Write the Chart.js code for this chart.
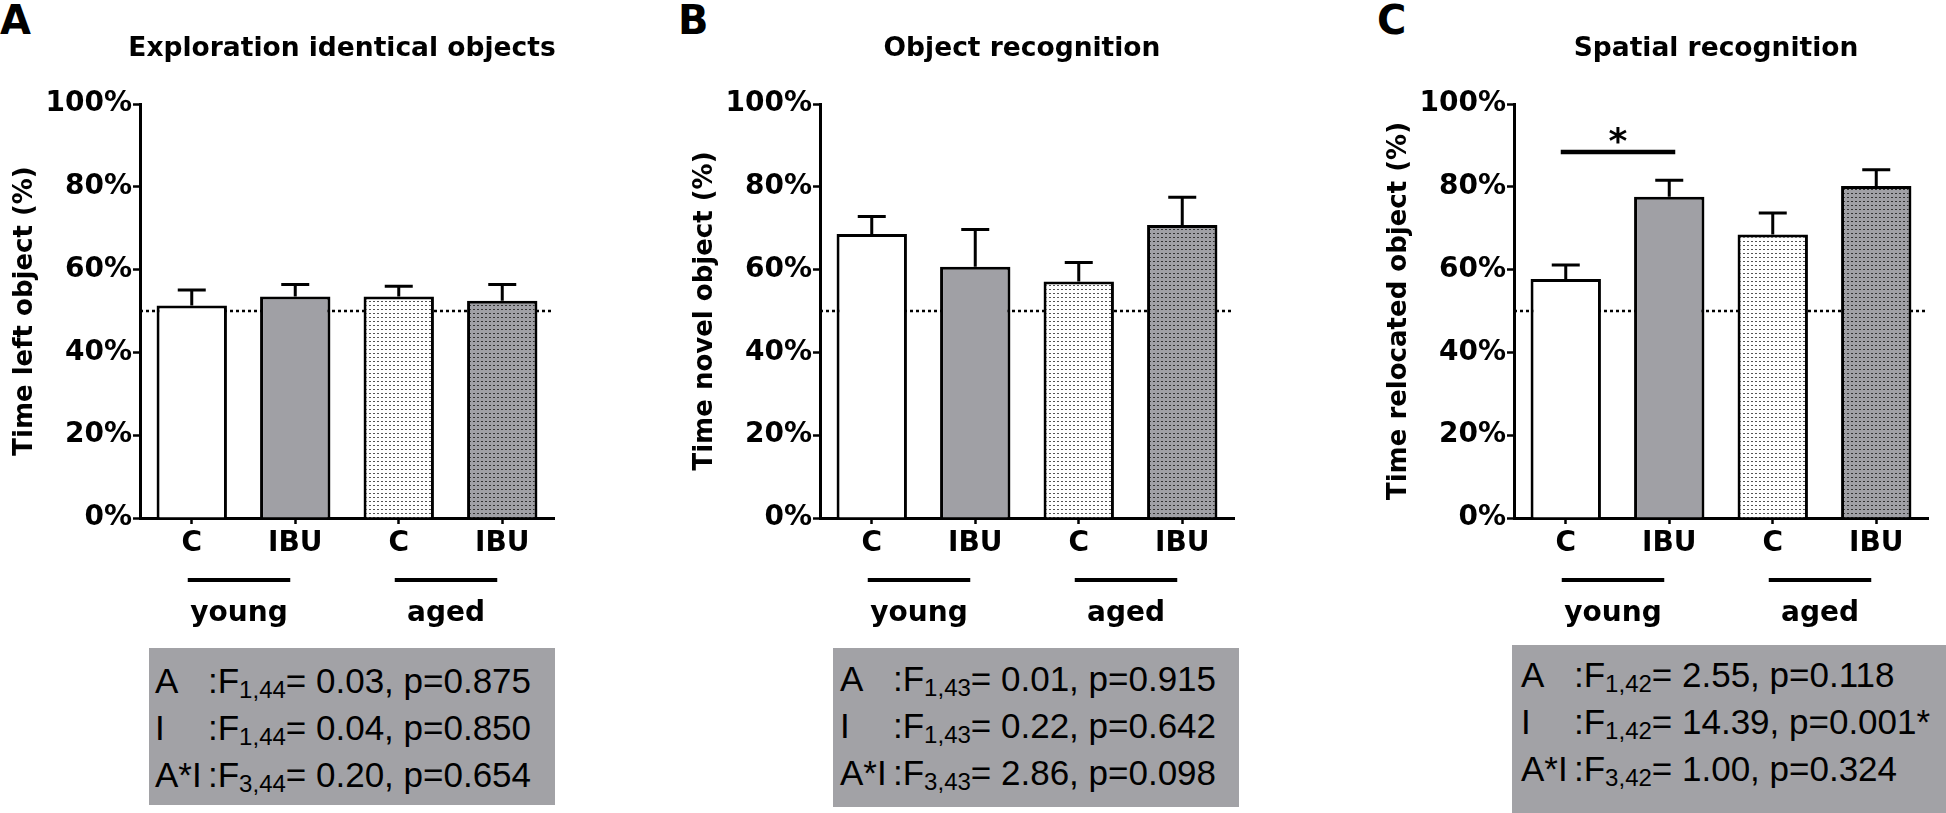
<!DOCTYPE html>
<html>
<head>
<meta charset="utf-8">
<script src="https://cdn.jsdelivr.net/npm/chart.js@4.4.0/dist/chart.umd.min.js"></script>
<style>
  body { margin: 0; background: #fff; width: 1946px; height: 813px; overflow: hidden; position: relative; }
  canvas { position: absolute; top: 0; }
  .letter { position: absolute; top: 0px; font: bold 40px "DejaVu Sans", sans-serif; line-height: 40px; }
  .stats { position: absolute; background: #a2a2a6; color: #000; box-sizing: border-box;
           font-family: "Liberation Sans", Arial, sans-serif; font-size: 35px; line-height: 47px; }
  .stats .line { display: block; white-space: nowrap; }
  .stats .k { display: inline-block; width: 53px; }
  .stats sub { font-size: 24px; vertical-align: -5px; line-height: 0; }
</style>
</head>
<body>
<div class="letter" style="left:0px">A</div>
<div class="letter" style="left:678px">B</div>
<div class="letter" style="left:1377px">C</div>

<canvas id="chartA" width="566" height="640" style="left:0px"></canvas>
<canvas id="chartB" width="566" height="640" style="left:680px"></canvas>
<canvas id="chartC" width="566" height="640" style="left:1374px"></canvas>

<div class="stats" id="statsA" style="left:149px; top:648px; width:406px; height:157px; padding:9px 0 0 6px"></div>
<div class="stats" id="statsB" style="left:833px; top:648px; width:406px; height:159px; padding:7px 0 0 7px"></div>
<div class="stats" id="statsC" style="left:1512px; top:645px; width:434px; height:168px; padding:6px 0 0 9px"></div>

<script>
// data (percent)
const categories = ['C', 'IBU', 'C', 'IBU'];
const groups = ['young', 'aged'];
const yTickValues = [0, 20, 40, 60, 80, 100];
const chanceLevel = 50;

const meansA = [51.3, 53.5, 53.5, 52.5];
const errorsA = [3.8, 2.9, 2.5, 3.9];
const meansB = [68.6, 60.7, 57.1, 70.8];
const errorsB = [4.2, 9.0, 4.6, 6.7];
const meansC = [57.7, 77.6, 68.5, 80.2];
const errorsC = [3.4, 4.0, 5.2, 3.9];

// significance bar in panel C: between bars 0 and 1
const sigPairC = [0, 1];
const sigLevelC = 88.4;

const statsA = [
  ['A', '1,44', '0.03', '0.875'],
  ['I', '1,44', '0.04', '0.850'],
  ['A*I', '3,44', '0.20', '0.654'],
];
const statsB = [
  ['A', '1,43', '0.01', '0.915'],
  ['I', '1,43', '0.22', '0.642'],
  ['A*I', '3,43', '2.86', '0.098'],
];
const statsC = [
  ['A', '1,42', '2.55', '0.118'],
  ['I', '1,42', '14.39', '0.001*'],
  ['A*I', '3,42', '1.00', '0.324'],
];

const GRAY = '#a0a0a5';
const BOLD = '"DejaVu Sans", sans-serif';

function dotPattern(bg, dot) {
  const c = document.createElement('canvas');
  c.width = 4; c.height = 4;
  const g = c.getContext('2d');
  g.fillStyle = bg;
  g.fillRect(0, 0, 4, 4);
  g.fillStyle = dot;
  g.fillRect(1, 1, 2, 1);
  return g.createPattern(c, 'repeat');
}

const fills = ['#ffffff', GRAY, dotPattern('#ffffff', '#555'), dotPattern(GRAY, '#333')];

const decor = {
  id: 'decor',
  beforeDatasetsDraw(chart, args, opts) {
    const { ctx, chartArea } = chart;
    const y = chart.scales.y.getPixelForValue(chanceLevel);
    ctx.save();
    ctx.strokeStyle = '#000';
    ctx.lineWidth = 2.5;
    ctx.setLineDash([3, 3]);
    ctx.beginPath();
    ctx.moveTo(chartArea.left, y);
    ctx.lineTo(chartArea.right, y);
    ctx.stroke();
    ctx.restore();
  },
  afterDatasetsDraw(chart, args, opts) {
    const { ctx } = chart;
    const yScale = chart.scales.y;
    const xScale = chart.scales.x;
    const means = chart.data.datasets[0].data;
    ctx.save();
    ctx.strokeStyle = '#000';
    ctx.lineWidth = 3;
    chart.getDatasetMeta(0).data.forEach((bar, i) => {
      const y0 = yScale.getPixelForValue(means[i]);
      const y1 = yScale.getPixelForValue(means[i] + opts.errors[i]);
      ctx.beginPath();
      ctx.moveTo(bar.x, y0);
      ctx.lineTo(bar.x, y1);
      ctx.moveTo(bar.x - 14, y1);
      ctx.lineTo(bar.x + 14, y1);
      ctx.stroke();
    });
    if (opts.sig) {
      const ys = yScale.getPixelForValue(opts.sig.level);
      const x1 = xScale.getPixelForValue(opts.sig.pair[0]) - 5;
      const x2 = xScale.getPixelForValue(opts.sig.pair[1]) + 6;
      ctx.lineWidth = 4.5;
      ctx.beginPath();
      ctx.moveTo(x1, ys);
      ctx.lineTo(x2, ys);
      ctx.stroke();
      ctx.fillStyle = '#000';
      ctx.font = 'bold 36px ' + BOLD;
      ctx.textAlign = 'center';
      ctx.textBaseline = 'alphabetic';
      ctx.fillText('*', (x1 + x2) / 2, ys + 1);
    }
    ctx.restore();
  },
  afterDraw(chart, args, opts) {
    const { ctx, chartArea } = chart;
    const xScale = chart.scales.x;
    ctx.save();
    ctx.fillStyle = '#000';
    ctx.strokeStyle = '#000';
    ctx.textAlign = 'center';
    ctx.textBaseline = 'alphabetic';
    ctx.font = 'bold 26.5px ' + BOLD;
    ctx.fillText(opts.title, (chartArea.left + chartArea.right) / 2 - 5, 56);
    ctx.font = 'bold 28px ' + BOLD;
    ctx.lineWidth = 4;
    groups.forEach((name, g) => {
      const x1 = xScale.getPixelForValue(2 * g) - 4;
      const x2 = xScale.getPixelForValue(2 * g + 1) - 5;
      ctx.beginPath();
      ctx.moveTo(x1, 580);
      ctx.lineTo(x2, 580);
      ctx.stroke();
      ctx.fillText(name, (x1 + x2) / 2, 621);
    });
    ctx.restore();
  },
};

function buildChart(id, title, yTitle, means, errors, sig) {
  const tickFont = { family: BOLD, size: 28, weight: 'bold' };
  return new Chart(document.getElementById(id), {
    type: 'bar',
    data: {
      labels: categories,
      datasets: [{
        data: means,
        backgroundColor: fills,
        borderColor: '#000',
        borderWidth: 3,
        categoryPercentage: 1,
        barPercentage: 0.68,
      }],
    },
    options: {
      responsive: false,
      animation: false,
      events: [],
      layout: { padding: { top: 104, left: 10, right: 12, bottom: 0 } },
      plugins: {
        legend: { display: false },
        tooltip: { enabled: false },
        decor: { title, errors, sig },
      },
      scales: {
        x: {
          afterFit: (s) => { s.height = 122; },
          grid: { offset: false, drawOnChartArea: false, drawTicks: true, tickLength: 6, tickWidth: 2.5, tickColor: '#000' },
          border: { display: true, color: '#000', width: 3 },
          ticks: { color: '#000', font: tickFont, padding: 3 },
        },
        y: {
          min: 0,
          max: 100,
          afterFit: (s) => { s.width = 130; },
          afterBuildTicks: (s) => { s.ticks = yTickValues.map((v) => ({ value: v })); },
          grid: { drawOnChartArea: false, drawTicks: true, tickLength: 7, tickWidth: 2.5, tickColor: '#000' },
          border: { display: true, color: '#000', width: 3 },
          ticks: { color: '#000', font: tickFont, padding: 1, callback: (v) => v + '%' },
          title: { display: true, text: yTitle, color: '#000', padding: 0,
                   font: { family: BOLD, size: 26, weight: 'bold' } },
        },
      },
    },
    plugins: [decor],
  });
}

function renderStats(id, rows) {
  const box = document.getElementById(id);
  box.innerHTML = rows.map(([term, df, f, p]) =>
    `<span class="line"><span class="k">${term}</span>:F<sub>${df}</sub>= ${f}, p=${p}</span>`
  ).join('');
}

buildChart('chartA', 'Exploration identical objects', 'Time left object (%)', meansA, errorsA, null);
buildChart('chartB', 'Object recognition', 'Time novel object (%)', meansB, errorsB, null);
buildChart('chartC', 'Spatial recognition', 'Time relocated object (%)', meansC, errorsC,
  { pair: sigPairC, level: sigLevelC });

renderStats('statsA', statsA);
renderStats('statsB', statsB);
renderStats('statsC', statsC);
</script>
</body>
</html>
